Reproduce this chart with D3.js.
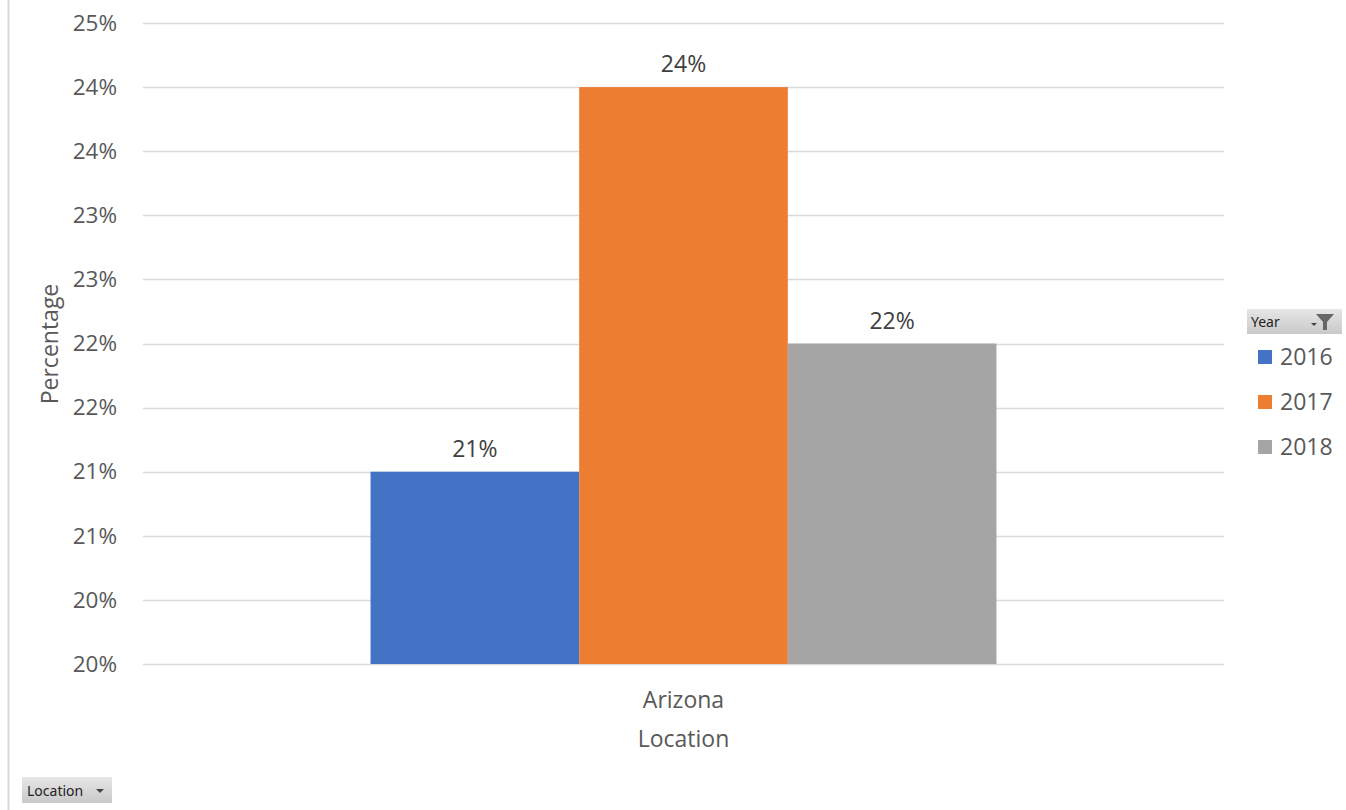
<!DOCTYPE html>
<html>
<head>
<meta charset="utf-8">
<script src="https://cdn.jsdelivr.net/npm/d3@7"></script>
<style>
  body { margin: 0; background: #fff; }
  svg { display: block; font-family: "Open Sans", "Noto Sans", sans-serif; }
</style>
</head>
<body>
<svg id="chart" width="1346" height="810"></svg>
<script>
const categories = ["Arizona"];
const years = ["2016", "2017", "2018"];
const values2016 = [0.215];
const values2017 = [0.245];
const values2018 = [0.225];
const dataLabels2016 = ["21%"];
const dataLabels2017 = ["24%"];
const dataLabels2018 = ["22%"];
const tickValues = [0.20, 0.205, 0.21, 0.215, 0.22, 0.225, 0.23, 0.235, 0.24, 0.245, 0.25];
const tickLabels = ["20%", "20%", "21%", "21%", "22%", "22%", "23%", "23%", "24%", "24%", "25%"];
const colors = ["#4472C4", "#ED7D31", "#A5A5A5"];

const series = [values2016, values2017, values2018];
const labels = [dataLabels2016, dataLabels2017, dataLabels2018];

const svg = d3.select("#chart");
const plot = { left: 143, right: 1224, top: 23, bottom: 664 };

// left border line
svg.append("line").attr("x1", 8.5).attr("x2", 8.5).attr("y1", 0).attr("y2", 810)
  .attr("stroke", "#d9d9d9").attr("stroke-width", 2);

const y = d3.scaleLinear().domain([0.20, 0.25]).range([plot.bottom, plot.top]);
const x0 = d3.scaleBand().domain(categories).range([plot.left, plot.right]).padding(0.2666);
const x1 = d3.scaleBand().domain(years).range([0, x0.bandwidth()]).padding(0);

// gridlines
svg.append("g").selectAll("line").data(tickValues).join("line")
  .attr("x1", plot.left).attr("x2", plot.right)
  .attr("y1", d => Math.round(y(d)) + 0.5).attr("y2", d => Math.round(y(d)) + 0.5)
  .attr("stroke", "#d9d9d9").attr("stroke-width", 1.5);

// y axis tick labels
const yAxis = d3.axisLeft(y).tickValues(tickValues).tickSize(0).tickPadding(0)
  .tickFormat((d, i) => tickLabels[i]);
const yg = svg.append("g").attr("transform", `translate(117,0)`).call(yAxis);
yg.select(".domain").remove();
yg.selectAll("text").attr("font-size", 22.5).attr("fill", "#595959")
  .attr("font-family", "'Open Sans', sans-serif");

// bars
const groups = svg.append("g").selectAll("g").data(categories).join("g")
  .attr("transform", d => `translate(${x0(d)},0)`);
years.forEach((yr, si) => {
  groups.append("rect")
    .attr("x", (d, i) => x1(yr))
    .attr("width", x1.bandwidth())
    .attr("y", (d, i) => y(series[si][i]))
    .attr("height", (d, i) => y(0.20) - y(series[si][i]))
    .attr("fill", colors[si]);
  groups.append("text")
    .attr("x", x1(yr) + x1.bandwidth() / 2)
    .attr("y", (d, i) => y(series[si][i]) - 15)
    .attr("text-anchor", "middle")
    .attr("font-size", 23).attr("fill", "#404040")
    .text((d, i) => labels[si][i]);
});

// category label
svg.append("g").selectAll("text").data(categories).join("text")
  .attr("x", d => x0(d) + x0.bandwidth() / 2).attr("y", 708)
  .attr("text-anchor", "middle").attr("font-size", 23).attr("fill", "#595959")
  .text(d => d);

// axis titles
svg.append("text").attr("x", (plot.left + plot.right) / 2).attr("y", 747)
  .attr("text-anchor", "middle").attr("font-size", 23).attr("fill", "#595959")
  .text("Location");
svg.append("text").attr("transform", "translate(58,344) rotate(-90)")
  .attr("text-anchor", "middle").attr("font-size", 23).attr("fill", "#595959")
  .text("Percentage");

// field button gradient
const defs = svg.append("defs");
const grad = defs.append("linearGradient").attr("id", "btn").attr("x1", 0).attr("x2", 0).attr("y1", 0).attr("y2", 1);
grad.append("stop").attr("offset", "0%").attr("stop-color", "#e6e6e6");
grad.append("stop").attr("offset", "100%").attr("stop-color", "#c9c9c9");

// Year button
svg.append("rect").attr("x", 1247).attr("y", 309).attr("width", 95).attr("height", 25).attr("fill", "url(#btn)");
svg.append("text").attr("x", 1251).attr("y", 327).attr("font-size", 14).attr("fill", "#222")
  .attr("font-family", "'Noto Sans', sans-serif").text("Year");
svg.append("path").attr("d", "M1316,314 L1334,314 L1327,322 L1327,330 L1323,330 L1323,322 Z").attr("fill", "#666");
svg.append("path").attr("d", "M1311,323 L1317,323 L1314,326 Z").attr("fill", "#444");

// legend
const legend = svg.append("g").selectAll("g").data(years).join("g")
  .attr("transform", (d, i) => `translate(1258,${350 + i * 45})`);
legend.append("rect").attr("width", 14).attr("height", 14).attr("fill", (d, i) => colors[i]);
legend.append("text").attr("x", 22).attr("y", 15).attr("font-size", 23).attr("fill", "#595959").text(d => d);

// Location button
svg.append("rect").attr("x", 22).attr("y", 777).attr("width", 90).attr("height", 26).attr("fill", "url(#btn)");
svg.append("text").attr("x", 27).attr("y", 796).attr("font-size", 14).attr("fill", "#222")
  .attr("font-family", "'Noto Sans', sans-serif").text("Location");
svg.append("path").attr("d", "M96,789 L104,789 L100,793 Z").attr("fill", "#444");
</script>
</body>
</html>
